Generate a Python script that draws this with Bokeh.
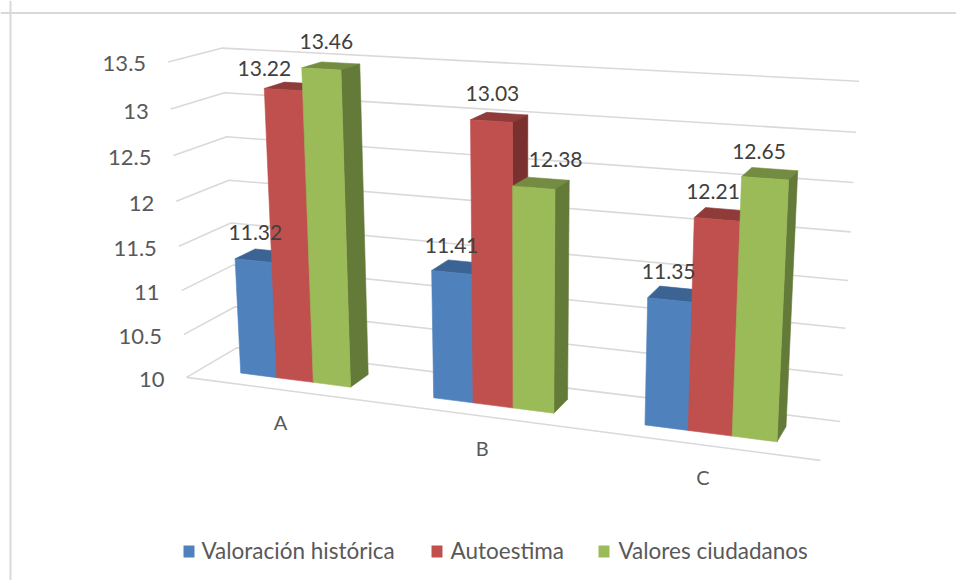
import numpy as np
from bokeh.plotting import figure
from bokeh.models import Span, ColumnDataSource
from bokeh.core.properties import value
from bokeh.embed import file_html
from bokeh.resources import INLINE

categories = ["A", "B", "C"]
series_names = ["Valoración histórica", "Autoestima", "Valores ciudadanos"]
historica = [11.32, 11.41, 11.35]
autoestima = [13.22, 13.03, 12.21]
ciudadanos = [13.46, 12.38, 12.65]
value_ticks = [10, 10.5, 11, 11.5, 12, 12.5, 13, 13.5]
tick_labels = ["10", "10.5", "11", "11.5", "12", "12.5", "13", "13.5"]

series = [historica, autoestima, ciudadanos]
label_text = [["11.32", "11.41", "11.35"], ["13.22", "13.03", "12.21"], ["13.46", "12.38", "12.65"]]
front_col = ["#4F81BD", "#C0504D", "#9BBB59"]
top_col = ["#3B6495", "#8F3B39", "#748C42"]
side_col = ["#2F4F76", "#7A302E", "#647A39"]

# perspective camera: (category position, value - base, depth) -> picture position
CAMERA = np.array([
    [175.44787299581483, -7.759104777092918, 63.69931685727135, 186.05461272936518],
    [7.560846714963161, -91.04200137167916, -10.462403328107138, 376.8784187484985],
    [-0.043735374371745905, -0.014813428650082727, 0.05541790631177612, 1.0],
])
BASE = 10.0
N_CAT = len(categories)


def project(u, v, w):
    q = CAMERA @ np.array([u, v - BASE, w, 1.0])
    return q[0] / q[2], q[1] / q[2]


p = figure(width=956, height=580, x_range=(0, 956), y_range=(580, 0),
           output_backend="svg", toolbar_location=None, min_border=0,
           outline_line_color=None, background_fill_color="white")
p.axis.visible = False
p.grid.visible = False

FRAME = "#D9D9D9"
p.add_layout(Span(location=12.5, dimension="width", line_color=FRAME, line_width=2))
p.add_layout(Span(location=10, dimension="height", line_color=FRAME, line_width=2))

GRID = "#D9D9D9"
for t in value_ticks:
    corners = [project(0, t, 0), project(0, t, 1), project(N_CAT, t, 1)]
    p.line([c[0] for c in corners], [c[1] for c in corners], line_color=GRID, line_width=1.6)
floor = [project(0, BASE, 0), project(N_CAT, BASE, 0)]
p.line([c[0] for c in floor], [c[1] for c in floor], line_color=GRID, line_width=1.6)

HALF = 0.29
BAR = 2 * HALF / 3
W0, W1 = 0.3, 0.7
xs, ys, cols = [], [], []


def face(points, col):
    xs.append([c[0] for c in points])
    ys.append([c[1] for c in points])
    cols.append(col)


for c in range(N_CAT):
    for s, vals in enumerate(series):
        u0 = c + 0.5 - HALF + s * BAR
        u1 = u0 + BAR
        v = vals[c]
        face([project(u0, v, W0), project(u1, v, W0), project(u1, v, W1), project(u0, v, W1)], top_col[s])
        face([project(u1, BASE, W0), project(u1, v, W0), project(u1, v, W1), project(u1, BASE, W1)], side_col[s])
        face([project(u0, BASE, W0), project(u1, BASE, W0), project(u1, v, W0), project(u0, v, W0)], front_col[s])
src = ColumnDataSource(dict(xs=xs, ys=ys, c=cols))
p.patches("xs", "ys", source=src, fill_color="c", line_color="c", line_width=0.6)

FONT = value("Lato")
AXIS_COL = "#595959"
LABEL_COL = "#404040"
SIZE = "21px"

# value axis labels
ax, ay = [], []
for t in value_ticks:
    x, y = project(0, t, 0)
    ax.append(x - 22)
    ay.append(y + 2)
p.text(ax, ay, text=tick_labels, text_font=FONT, text_font_size="22px", text_color=AXIS_COL,
       text_align="right", text_baseline="middle")

# category labels
CAT_DX = [0, 1, 1]
cx, cy = [], []
for c in range(N_CAT):
    x, y = project(c + 0.5, BASE, 0)
    cx.append(x + CAT_DX[c])
    cy.append(y + 32)
p.text(cx, cy, text=categories, text_font=FONT, text_font_size="20px", text_color=AXIS_COL,
       text_align="center", text_baseline="middle")

# data labels
LABEL_DX = [[2, 0, -1], [-19, 1, -4], [5, 22, -6]]
LABEL_DY = [[-28, -27, -28], [-21, -28, -28], [-27, -28, -27]]
lx, ly, lt = [], [], []
for s, vals in enumerate(series):
    for c in range(N_CAT):
        x, y = project(c + 0.5 - HALF + (s + 0.5) * BAR, vals[c], W0)
        lx.append(x + LABEL_DX[s][c])
        ly.append(y + LABEL_DY[s][c])
        lt.append(label_text[s][c])
p.text(lx, ly, text=lt, text_font=FONT, text_font_size=SIZE, text_color=LABEL_COL,
       text_align="center", text_baseline="middle")

# legend
KEY_X = [188.5, 436.5, 603.5]
TEXT_X = [201, 450, 618]
LEG_Y = 550
p.rect(KEY_X, [551] * 3, width=11, height=12, fill_color=front_col, line_color=None)
p.text(TEXT_X, [LEG_Y] * 3, text=series_names, text_font=FONT, text_font_size="22.5px", text_color=AXIS_COL,
       text_align="left", text_baseline="middle")

open("out.html", "w").write(file_html(p, INLINE))
